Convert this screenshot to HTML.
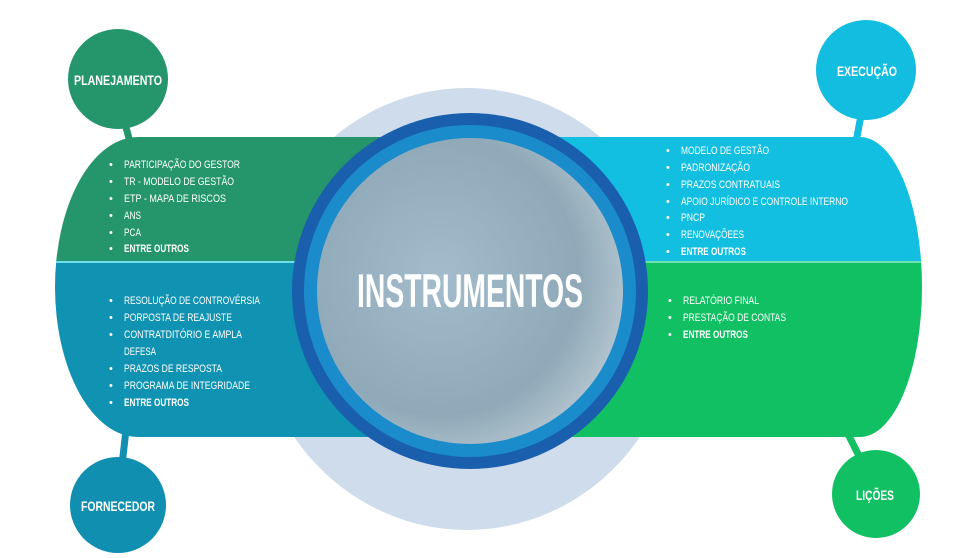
<!DOCTYPE html>
<html><head><meta charset="utf-8"><style>
html,body{margin:0;padding:0;background:#fff;width:977px;height:558px;overflow:hidden}
svg{display:block}
text{font-family:"Liberation Sans",sans-serif;fill:#fff}
.li{font-size:11px}
.b{font-weight:bold}
</style></head><body>
<svg width="977" height="558" viewBox="0 0 977 558" xmlns="http://www.w3.org/2000/svg">
<defs>
<radialGradient id="sph" cx="0.4" cy="0.45" r="0.65">
<stop offset="0" stop-color="#a3bccb"/><stop offset="0.7" stop-color="#8fa9b8"/><stop offset="1" stop-color="#b8c8d2"/>
</radialGradient>
<clipPath id="top"><rect x="0" y="0" width="977" height="262"/></clipPath>
<clipPath id="bot"><rect x="0" y="262" width="977" height="300"/></clipPath>
</defs>
<ellipse cx="467" cy="309" rx="212" ry="221" fill="#cedceb"/>
<line x1="124" y1="120" x2="130" y2="142" stroke="#25966b" stroke-width="7"/>
<line x1="862" y1="110" x2="856" y2="142" stroke="#12bde0" stroke-width="7"/>
<line x1="126" y1="430" x2="122" y2="465" stroke="#118fb0" stroke-width="7"/>
<line x1="846" y1="430" x2="862" y2="462" stroke="#11c062" stroke-width="7"/>
<path d="M480 137 L138 137 A83 150 0 0 0 138 437 L480 437 Z" fill="#25966b" clip-path="url(#top)"/>
<path d="M480 137 L138 137 A83 150 0 0 0 138 437 L480 437 Z" fill="#1092b2" clip-path="url(#bot)"/>
<path d="M460 137 L860 137 A62 150 0 0 1 860 437 L460 437 Z" fill="#12bfe1" clip-path="url(#top)"/>
<path d="M460 137 L860 137 A62 150 0 0 1 860 437 L460 437 Z" fill="#10c062" clip-path="url(#bot)"/>
<line x1="56" y1="262" x2="470" y2="262" stroke="#6fdcea" stroke-width="2"/>
<line x1="470" y1="262" x2="921" y2="262" stroke="#6fe0b0" stroke-width="2"/>
<circle cx="470" cy="291" r="178" fill="#1a5fae"/>
<circle cx="470" cy="291" r="166" fill="#1a8ccc"/>
<circle cx="470" cy="291" r="153" fill="url(#sph)"/>
<text x="470" y="307" text-anchor="middle" font-size="47" font-weight="bold" textLength="226" lengthAdjust="spacingAndGlyphs">INSTRUMENTOS</text>
<circle cx="118" cy="79" r="50" fill="#25966b"/>
<text x="118" y="85" text-anchor="middle" font-size="14" font-weight="bold" textLength="88" lengthAdjust="spacingAndGlyphs">PLANEJAMENTO</text>
<circle cx="866" cy="70" r="50" fill="#12bde0"/>
<text x="867" y="76" text-anchor="middle" font-size="14" font-weight="bold" textLength="60" lengthAdjust="spacingAndGlyphs">EXECUÇÃO</text>
<circle cx="118" cy="505" r="48" fill="#118fb0"/>
<text x="118" y="511" text-anchor="middle" font-size="14" font-weight="bold" textLength="74" lengthAdjust="spacingAndGlyphs">FORNECEDOR</text>
<circle cx="876" cy="494" r="44" fill="#11c062"/>
<text x="875" y="500" text-anchor="middle" font-size="14" font-weight="bold" textLength="38" lengthAdjust="spacingAndGlyphs">LIÇÕES</text>
<g class="li">
<text x="109" y="168">•</text><text x="124" y="168" textLength="116" lengthAdjust="spacingAndGlyphs">PARTICIPAÇÃO DO GESTOR</text>
<text x="109" y="185">•</text><text x="124" y="185" textLength="110" lengthAdjust="spacingAndGlyphs">TR - MODELO DE GESTÃO</text>
<text x="109" y="202">•</text><text x="124" y="202" textLength="102" lengthAdjust="spacingAndGlyphs">ETP - MAPA DE RISCOS</text>
<text x="109" y="219">•</text><text x="124" y="219" textLength="17" lengthAdjust="spacingAndGlyphs">ANS</text>
<text x="109" y="236">•</text><text x="124" y="236" textLength="17" lengthAdjust="spacingAndGlyphs">PCA</text>
<text x="109" y="252">•</text><text x="124" y="252" class="b" textLength="65" lengthAdjust="spacingAndGlyphs">ENTRE OUTROS</text>

<text x="666" y="154">•</text><text x="681" y="154" textLength="88" lengthAdjust="spacingAndGlyphs">MODELO DE GESTÃO</text>
<text x="666" y="171">•</text><text x="681" y="171" textLength="69" lengthAdjust="spacingAndGlyphs">PADRONIZAÇÃO</text>
<text x="666" y="188">•</text><text x="681" y="188" textLength="99" lengthAdjust="spacingAndGlyphs">PRAZOS CONTRATUAIS</text>
<text x="666" y="205">•</text><text x="681" y="205" textLength="167" lengthAdjust="spacingAndGlyphs">APOIO JURÍDICO E CONTROLE INTERNO</text>
<text x="666" y="221">•</text><text x="681" y="221" textLength="24" lengthAdjust="spacingAndGlyphs">PNCP</text>
<text x="666" y="238">•</text><text x="681" y="238" textLength="63" lengthAdjust="spacingAndGlyphs">RENOVAÇÕEES</text>
<text x="666" y="255">•</text><text x="681" y="255" class="b" textLength="65" lengthAdjust="spacingAndGlyphs">ENTRE OUTROS</text>

<text x="109" y="304">•</text><text x="124" y="304" textLength="136" lengthAdjust="spacingAndGlyphs">RESOLUÇÃO DE CONTROVÉRSIA</text>
<text x="109" y="321">•</text><text x="124" y="321" textLength="108" lengthAdjust="spacingAndGlyphs">PORPOSTA DE REAJUSTE</text>
<text x="109" y="338">•</text><text x="124" y="338" textLength="118" lengthAdjust="spacingAndGlyphs">CONTRATDITÓRIO E AMPLA</text>
<text x="124" y="355" textLength="32" lengthAdjust="spacingAndGlyphs">DEFESA</text>
<text x="109" y="372">•</text><text x="124" y="372" textLength="98" lengthAdjust="spacingAndGlyphs">PRAZOS DE RESPOSTA</text>
<text x="109" y="389">•</text><text x="124" y="389" textLength="126" lengthAdjust="spacingAndGlyphs">PROGRAMA DE INTEGRIDADE</text>
<text x="109" y="406">•</text><text x="124" y="406" class="b" textLength="65" lengthAdjust="spacingAndGlyphs">ENTRE OUTROS</text>

<text x="668" y="304">•</text><text x="683" y="304" textLength="76" lengthAdjust="spacingAndGlyphs">RELATÓRIO FINAL</text>
<text x="668" y="321">•</text><text x="683" y="321" textLength="103" lengthAdjust="spacingAndGlyphs">PRESTAÇÃO DE CONTAS</text>
<text x="668" y="338">•</text><text x="683" y="338" class="b" textLength="65" lengthAdjust="spacingAndGlyphs">ENTRE OUTROS</text>
</g>
</svg>
</body></html>
